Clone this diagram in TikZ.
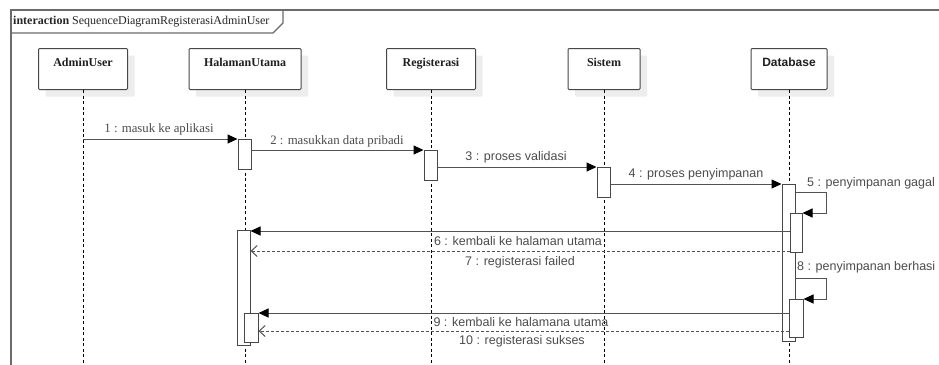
\documentclass[tikz,border=0pt]{standalone}
\usepackage{fontspec}
\setmainfont{Liberation Serif}
\newfontfamily\lblsans{Liberation Sans}
\usetikzlibrary{arrows.meta,calc,shadows}

\begin{document}
\begin{tikzpicture}[x=1pt,y=-1pt,
  frameline/.style={draw=black!58, line width=1.3pt},
  head/.style={draw=black!72, line width=1pt, fill=white, rounded corners=1pt,
    general shadow={fill=black!7, shadow xshift=7pt, shadow yshift=-7pt},
    minimum height=41pt, inner ysep=5pt, text height=13pt, text depth=18pt,
    anchor=north, font=\bfseries\fontsize{12}{14}\selectfont, text=black!88},
  lifeline/.style={draw=black, line width=0.8pt, dash pattern=on 3pt off 2.5pt},
  act/.style={draw=black!72, line width=1pt, fill=white, anchor=north, inner sep=0pt},
  msg/.style={draw=black!68, line width=1pt, -{Triangle[length=10pt,width=9pt,black]}},
  reply/.style={draw=black!68, line width=1pt, dash pattern=on 3pt off 2pt,
    -{Straight Barb[length=6pt,width=11pt,black!68]}},
  seriflbl/.style={font=\fontsize{12.8}{14}\selectfont, text=black!70, inner sep=0pt},
  sanslbl/.style={font=\lblsans\fontsize{12.5}{14}\selectfont, text=black!70, inner sep=0pt}
]
\useasboundingbox (0,0) rectangle (939,364);
\fill[white] (0,0) rectangle (939,364);

% interaction frame and its name tab
\draw[frameline] (11,370) -- (11,10) -- (945,10);
\draw[frameline] (11,33) -- (273,33) -- (283,23) -- (283,10);
\node[anchor=west, inner sep=0pt, font=\fontsize{12}{14}\selectfont, text=black!85] (title)
  at (13,22) {\textbf{interaction} SequenceDiagramRegisterasiAdminUser};

% lifeline heads
\node[head, minimum width=89pt] (au) at (83,48) {AdminUser};
\node[head, minimum width=112pt] (hu) at (245,48) {HalamanUtama};
\node[head, minimum width=89pt] (rg) at (431,48) {Registerasi};
\node[head, minimum width=72pt] (si) at (604,48) {Sistem};
\node[head, minimum width=76pt, font=\lblsans\bfseries\fontsize{12}{14}\selectfont] (db) at (789,48) {Database};

% lifelines
\coordinate (bottom) at (0,366);
\foreach \p in {au,hu,rg,si,db}
  \draw[lifeline] (\p.south) -- (\p.south |- bottom);

% activation bars
\node[act, minimum width=13pt, minimum height=30pt] (h1) at (244.5,139) {};
\node[act, minimum width=13pt, minimum height=30pt] (r1) at (430.5,150) {};
\node[act, minimum width=13pt, minimum height=30pt] (s1) at (603.5,167) {};
\node[act, minimum width=13pt, minimum height=157pt] (d1) at (788.5,184) {};
\node[act, minimum width=13pt, minimum height=115pt] (h2) at (243.5,230) {};
\node[act, minimum width=12pt, minimum height=39pt] (d2) at (796,213) {};
\node[act, minimum width=14pt, minimum height=38pt] (d3) at (796,299) {};
\node[act, minimum width=14pt, minimum height=29pt] (h3) at (251,313) {};

% messages
\draw[msg] (au.south |- h1.north) -- (h1.north west);
\draw[msg] (h1.east |- r1.north) -- (r1.north west);
\draw[msg] (r1.east |- s1.north) -- (s1.north west);
\draw[msg] (s1.east |- d1.north) -- (d1.north west);
\draw[msg] ($(d1.north east)+(0,8)$) -- ++(31,0) |- (d2.north east);
\draw[msg] ($(d2.west |- h2.north)+(0,1)$) -- ($(h2.north east)+(0,1)$);
\coordinate (m7) at ($(d2.south west)+(0,-2)$);
\draw[reply] (m7) -- (m7 -| h2.east);
\draw[msg] ($(d1.north east)+(0,94)$) -- ++(31,0) |- (d3.north east);
\draw[msg] (d3.west |- h3.north) -- (h3.north east);
\coordinate (m10) at ($(d3.south west)+(0,-7)$);
\draw[reply] (m10) -- (m10 -| h3.east);

% message labels
\node[seriflbl] (l1) at (159,129) {1 : masuk ke aplikasi};
\node[seriflbl] (l2) at (337,141) {2 : masukkan data pribadi};
\node[sanslbl] (l3) at (516,157) {3 : proses validasi};
\node[sanslbl] (l4) at (696,174) {4 : proses penyimpanan};
\node[sanslbl, anchor=west] (l5) at (807,183) {5 : penyimpanan gagal};
\node[sanslbl] (l6) at (518,241) {6 : kembali ke halaman utama};
\node[sanslbl] (l7) at (520,262) {7 : registerasi failed};
\node[sanslbl, anchor=west] (l8) at (797,267) {8 : penyimpanan berhasi};
\node[sanslbl] (l9) at (521,322) {9 : kembali ke halamana utama};
\node[sanslbl] (l10) at (522,341) {10 : registerasi sukses};
\end{tikzpicture}
\end{document}
